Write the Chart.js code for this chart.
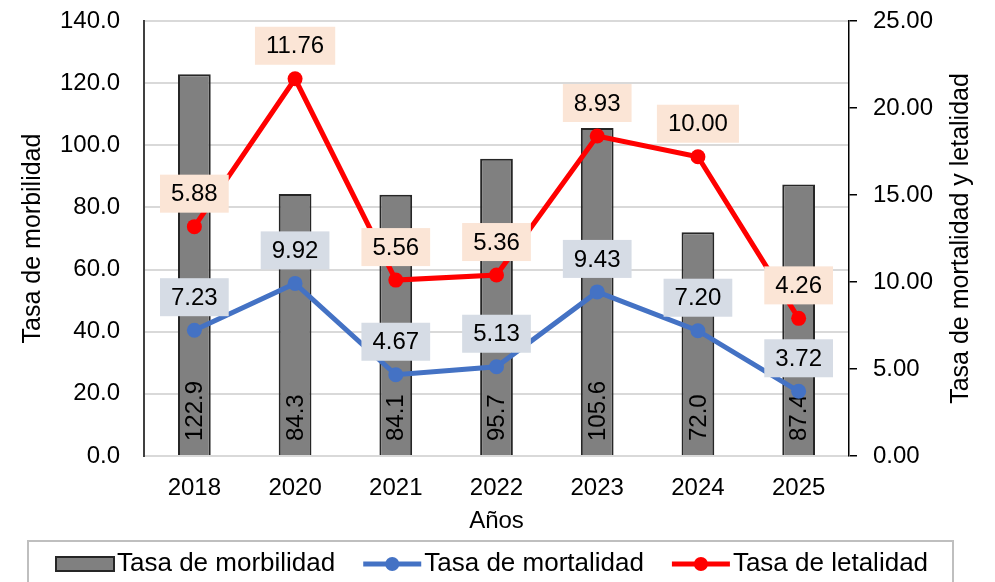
<!DOCTYPE html>
<html>
<head>
<meta charset="utf-8">
<script src="https://cdn.jsdelivr.net/npm/chart.js@4/dist/chart.umd.min.js"></script>
<style>
    html, body { margin: 0; padding: 0; background: #fff; }
    canvas { display: block; }
</style>
</head>
<body>
<canvas id="chart" width="995" height="582"></canvas>
<script>
const FONT = '"Liberation Sans", Arial, sans-serif';

// data
const years = ['2018', '2020', '2021', '2022', '2023', '2024', '2025'];
const morbilidad = [122.9, 84.3, 84.1, 95.7, 105.6, 72.0, 87.4];
const mortalidad = [7.23, 9.92, 4.67, 5.13, 9.43, 7.20, 3.72];
// red line sits at these heights on the right axis, but its labels show other numbers
const letalidadPlot = [13.18, 21.68, 10.11, 10.40, 18.39, 17.20, 7.91];
const letalidadLabels = ['5.88', '11.76', '5.56', '5.36', '8.93', '10.00', '4.26'];
const mortalidadLabels = mortalidad.map(v => v.toFixed(2));

const GRAY = '#808080';
const BLUE = '#4472C4';
const RED = '#FF0000';

// rotated value labels inside the bars, drawn before the lines
const barLabels = {
    id: 'barLabels',
    afterDatasetDraw(chart, args) {
        if (args.meta.type !== 'bar') return;
        const ctx = chart.ctx;
        ctx.save();
        ctx.font = '24px ' + FONT;
        ctx.fillStyle = '#000';
        ctx.textAlign = 'left';
        ctx.textBaseline = 'middle';
        args.meta.data.forEach((bar, i) => {
            ctx.save();
            ctx.translate(bar.x, bar.base - 14);
            ctx.rotate(-Math.PI / 2);
            ctx.fillText(morbilidad[i].toFixed(1), 0, 1);
            ctx.restore();
        });
        ctx.restore();
    }
};

// boxed labels above the line points
const pointLabels = {
    id: 'pointLabels',
    afterDatasetsDraw(chart) {
        const ctx = chart.ctx;
        ctx.save();
        ctx.font = '24px ' + FONT;
        ctx.textAlign = 'center';
        ctx.textBaseline = 'middle';
        chart.data.datasets.forEach((ds, di) => {
            if (!ds.boxLabels) return;
            const meta = chart.getDatasetMeta(di);
            meta.data.forEach((pt, i) => {
                const text = ds.boxLabels[i];
                const w = ctx.measureText(text).width + 22;
                const h = 38;
                const cy = pt.y - 33;
                ctx.fillStyle = ds.boxColor;
                ctx.fillRect(pt.x - w / 2, cy - h / 2, w, h);
                ctx.fillStyle = '#000';
                ctx.fillText(text, pt.x, cy + 1);
            });
        });
        ctx.restore();
    }
};

// right axis title (reads bottom to top) and the boxed legend
const extras = {
    id: 'extras',
    afterDraw(chart) {
        const ctx = chart.ctx;
        const area = chart.chartArea;
        ctx.save();
        ctx.font = '25px ' + FONT;
        ctx.fillStyle = '#000';
        ctx.textAlign = 'center';
        ctx.textBaseline = 'middle';
        ctx.translate(961, (area.top + area.bottom) / 2);
        ctx.rotate(-Math.PI / 2);
        ctx.fillText('Tasa de mortalidad y letalidad', 0, 0);
        ctx.restore();

        ctx.save();
        ctx.strokeStyle = '#bfbfbf';
        ctx.lineWidth = 2;
        ctx.strokeRect(28, 541, 925, 60);

        const items = [
            {text: 'Tasa de morbilidad', type: 'bar', color: GRAY},
            {text: 'Tasa de mortalidad', type: 'line', color: BLUE},
            {text: 'Tasa de letalidad', type: 'line', color: RED}
        ];
        ctx.font = '26px ' + FONT;
        ctx.textAlign = 'left';
        ctx.textBaseline = 'middle';
        const cy = 564;
        let x = 56;
        items.forEach(item => {
            if (item.type === 'bar') {
                ctx.fillStyle = item.color;
                ctx.fillRect(x, cy - 7, 58, 14);
                ctx.strokeStyle = '#262626';
                ctx.lineWidth = 2;
                ctx.strokeRect(x, cy - 7, 58, 14);
            } else {
                ctx.strokeStyle = item.color;
                ctx.lineWidth = 5;
                ctx.beginPath();
                ctx.moveTo(x, cy);
                ctx.lineTo(x + 58, cy);
                ctx.stroke();
                ctx.fillStyle = item.color;
                ctx.beginPath();
                ctx.arc(x + 29, cy, 7, 0, Math.PI * 2);
                ctx.fill();
            }
            ctx.fillStyle = '#000';
            ctx.fillText(item.text, x + 61, cy);
            x += 61 + ctx.measureText(item.text).width + 28;
        });
        ctx.restore();
    }
};

// fixed axis widths; tick padding must not push the chart area down
function fixWidth(w) {
    return s => {
        s.width = w;
        s.paddingTop = 14;
        s.paddingBottom = 14;
    };
}

new Chart(document.getElementById('chart'), {
    data: {
        labels: years,
        datasets: [
            {
                type: 'bar',
                label: 'Tasa de morbilidad',
                data: morbilidad,
                yAxisID: 'y',
                backgroundColor: GRAY,
                borderColor: '#262626',
                borderWidth: 2,
                barPercentage: 0.325,
                categoryPercentage: 1,
                order: 3
            },
            {
                type: 'line',
                label: 'Tasa de mortalidad',
                data: mortalidad,
                yAxisID: 'y1',
                borderColor: BLUE,
                backgroundColor: BLUE,
                borderWidth: 5,
                pointRadius: 7.5,
                pointBorderWidth: 0,
                tension: 0,
                boxLabels: mortalidadLabels,
                boxColor: '#D6DCE5',
                order: 2
            },
            {
                type: 'line',
                label: 'Tasa de letalidad',
                data: letalidadPlot,
                yAxisID: 'y1',
                borderColor: RED,
                backgroundColor: RED,
                borderWidth: 5,
                pointRadius: 7.5,
                pointBorderWidth: 0,
                tension: 0,
                boxLabels: letalidadLabels,
                boxColor: '#FBE5D6',
                order: 1
            }
        ]
    },
    options: {
        responsive: false,
        devicePixelRatio: 1,
        animation: false,
        layout: {padding: {top: 21, left: 0, right: 0, bottom: 46}},
        plugins: {
            legend: {display: false},
            tooltip: {enabled: false}
        },
        scales: {
            x: {
                afterFit: s => { s.height = 80; },
                grid: {display: false, drawTicks: false},
                border: {color: '#d9d9d9', width: 2},
                ticks: {color: '#000', padding: 18, font: {family: FONT, size: 24}},
                title: {
                    display: true, text: 'Años', color: '#000',
                    font: {family: FONT, size: 24}, padding: {top: 0, bottom: 0}
                }
            },
            y: {
                position: 'left',
                min: 0, max: 140,
                afterFit: fixWidth(144),
                grid: {color: '#d9d9d9', lineWidth: 2, drawTicks: false},
                border: {color: '#404040', width: 2},
                ticks: {
                    stepSize: 20, color: '#000', padding: 24,
                    font: {family: FONT, size: 24},
                    callback: v => Number(v).toFixed(1)
                },
                title: {
                    display: true, text: 'Tasa de morbilidad', color: '#000',
                    font: {family: FONT, size: 25}, padding: {top: 18, bottom: 0}
                }
            },
            y1: {
                position: 'right',
                min: 0, max: 25,
                afterFit: fixWidth(146),
                grid: {drawOnChartArea: false, drawTicks: true, tickLength: 8, color: '#000', lineWidth: 1.5},
                border: {color: '#000', width: 1.5},
                ticks: {
                    stepSize: 5, color: '#000', padding: 16,
                    font: {family: FONT, size: 24},
                    callback: v => Number(v).toFixed(2)
                }
            }
        }
    },
    plugins: [barLabels, pointLabels, extras]
});
</script>
</body>
</html>
